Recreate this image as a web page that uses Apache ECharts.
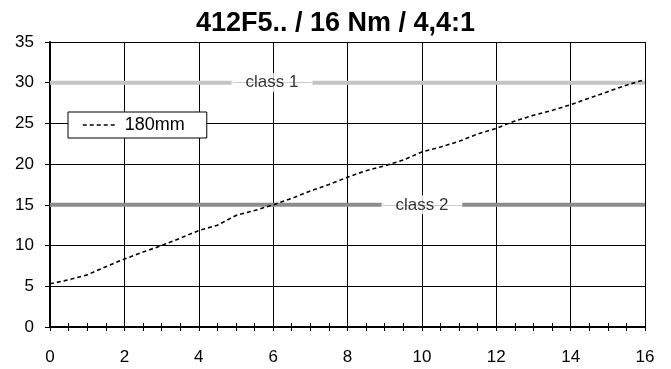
<!DOCTYPE html>
<html>
<head>
<meta charset="utf-8">
<script src="https://cdn.jsdelivr.net/npm/echarts@6/dist/echarts.min.js"></script>
<style>html,body{margin:0;padding:0;background:#fff}#c{width:671px;height:369px}</style>
</head>
<body>
<div id="c"></div>
<script>
var titleText = '412F5.. / 16 Nm / 4,4:1';
var seriesName = '180mm';
var xValues = [0,0.5,1,1.5,2,2.5,3,3.5,4,4.5,5,5.5,6,6.5,7,7.5,8,8.5,9,9.5,10,10.5,11,11.5,12,12.5,13,13.5,14,14.5,15,15.5,16];
var yValues = [5.3,5.8,6.4,7.4,8.35,9.2,10.0,10.9,11.85,12.5,13.7,14.3,15.0,15.8,16.7,17.5,18.4,19.2,19.8,20.5,21.5,22.1,22.8,23.7,24.4,25.3,26.0,26.6,27.3,28.1,28.9,29.7,30.4];
var class1Value = 30, class2Value = 15;
var class1Left = [0, 4.93], class1Right = [7.03, 16], class1LabelX = 5.97;
var class2Left = [0, 8.97], class2Right = [11.08, 16], class2LabelX = 10.0;
var class1Name = 'class 1', class2Name = 'class 2';
var xMin = 0, xMax = 16, xInterval = 2;
var yMin = 0, yMax = 35, yInterval = 5;

var FONT = 'Liberation Sans, Arial, sans-serif';
function seg(r, v){ return [[r[0], v],[r[1], v]]; }
function segSeries(r, v, color){
  return {type:'line', data: seg(r, v), showSymbol:false, symbol:'none', silent:true,
    lineStyle:{color:color, width:4}, z:2};
}
function labelSeries(x, v, name){
  return {type:'scatter', data:[{name:name, value:[x, v]}], symbolSize:0, silent:true,
    label:{show:true, position:'inside', formatter:'{b}', color:'#000', fontSize:17, fontFamily:FONT,
      backgroundColor:'#fff', padding:[1,14], lineHeight:17}, z:4};
}
var chart = echarts.init(document.getElementById('c'), null, {renderer:'canvas'});
var mainData = xValues.map(function(x,i){return [x, yValues[i]];});
var axisCommon = {type:'value', min:xMin, max:xMax, interval:xInterval, gridIndex:0, position:'bottom'};
chart.setOption({
  animation:false,
  backgroundColor:'#fff',
  title:{text:titleText, left:'center', top:5,
    textStyle:{fontSize:27, fontWeight:'bold', color:'#000', fontFamily:FONT}},
  grid:{left:50, right:26, top:42, bottom:42, containLabel:false},
  legend:{data:[{name:seriesName, itemStyle:{color:'rgba(0,0,0,0)', borderWidth:0}}], left:68, top:112, orient:'horizontal',
    backgroundColor:'#fff', borderColor:'#000', borderWidth:1, borderRadius:0,
    padding:[4,22,4,14], itemWidth:32, itemHeight:10, itemGap:0,
    formatter:'{t|{name}}',
    itemStyle:{color:'rgba(0,0,0,0)', borderWidth:0, opacity:0},
    lineStyle:{color:'#000', width:1.5, type:[4,3], opacity:1},
    textStyle:{fontSize:18, color:'#000', fontFamily:FONT,
      rich:{t:{fontSize:18, color:'#000', fontFamily:FONT, padding:[0,0,0,5]}}}},
  xAxis:[
    Object.assign({}, axisCommon, {
      axisLine:{show:true, lineStyle:{color:'#000', width:2}},
      axisTick:{show:true, inside:false, length:4, lineStyle:{color:'#000', width:1}},
      minorTick:{show:true, splitNumber:4, length:4, lineStyle:{color:'#000', width:1}},
      axisLabel:{show:true, margin:22, color:'#000', fontSize:17, fontFamily:FONT},
      splitLine:{show:true, lineStyle:{color:'#000', width:1}}
    }),
    Object.assign({}, axisCommon, {
      axisLine:{show:false},
      axisTick:{show:true, inside:true, length:4, lineStyle:{color:'#000', width:1}},
      minorTick:{show:true, splitNumber:4, length:4, lineStyle:{color:'#000', width:1}},
      axisLabel:{show:false},
      splitLine:{show:false}
    })
  ],
  yAxis:{type:'value', min:yMin, max:yMax, interval:yInterval,
    axisLine:{show:true, lineStyle:{color:'#000', width:2}},
    axisTick:{show:true, inside:false, length:5, lineStyle:{color:'#000', width:1}},
    axisLabel:{margin:16, color:'#000', fontSize:17, fontFamily:FONT},
    splitLine:{show:true, lineStyle:{color:'#000', width:1}}},
  series:[
    segSeries(class1Left, class1Value, '#c4c4c4'),
    segSeries(class1Right, class1Value, '#c4c4c4'),
    segSeries(class2Left, class2Value, '#8c8c8c'),
    segSeries(class2Right, class2Value, '#8c8c8c'),
    labelSeries(class1LabelX, class1Value, class1Name),
    labelSeries(class2LabelX, class2Value, class2Name),
    {name:seriesName, type:'line', data:mainData, showSymbol:false, symbol:'none', z:5,
      lineStyle:{color:'#000', width:1.6, type:[4,3]}, itemStyle:{color:'#000'}}
  ]
});
</script>
</body>
</html>
